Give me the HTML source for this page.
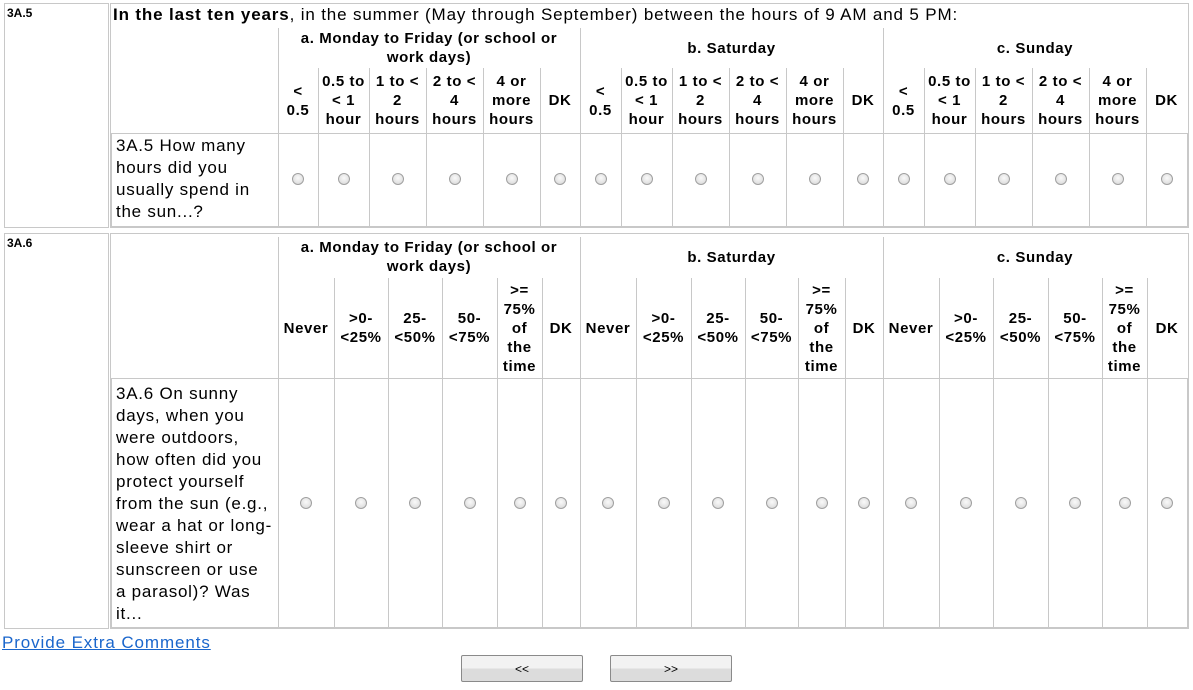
<!DOCTYPE html>
<html><head><meta charset="utf-8"><style>
body{margin:0;width:1193px;height:690px;background:#fff;position:relative;overflow:hidden;font-family:"Liberation Sans",Arial,sans-serif;color:#000}
.b{position:absolute;border:1px solid #c8c8c8;box-sizing:border-box}
.v{position:absolute;width:1px;background:#c8c8c8}
.c{position:absolute;display:flex;align-items:center;justify-content:center;text-align:center;font-weight:bold;font-size:15px;letter-spacing:0.6px;line-height:19px;white-space:nowrap}
.q{position:absolute;font-size:17px;letter-spacing:0.75px;line-height:22px;white-space:nowrap}
.id{position:absolute;font-weight:bold;font-size:12px}
.r{position:absolute;width:12px;height:12px;border-radius:50%;border:1px solid #a0a0a0;background:radial-gradient(circle at 50% 40%,#fafafa,#d4d4d4);box-sizing:border-box}
.btn{position:absolute;width:122px;height:27px;border:1px solid #8a8a8a;border-radius:2px;background:linear-gradient(#f2f2f2 50%,#dcdcdc 50%);font-size:12px;display:flex;align-items:center;justify-content:center;box-sizing:border-box}
</style></head><body>
<div class="b" style="left:4px;top:3px;width:105px;height:225px"></div>
<div class="b" style="left:110px;top:3px;width:1079px;height:225px"></div>
<div class="b" style="left:4px;top:233px;width:105px;height:396px"></div>
<div class="b" style="left:110px;top:233px;width:1079px;height:396px"></div>
<div class="b" style="left:111px;top:133px;width:1077px;height:94px"></div>
<div class="b" style="left:111px;top:378px;width:1077px;height:250px"></div>
<div id="g"></div>

<div class="id" style="left:7px;top:6px">3A.5</div>
<div class="id" style="left:7px;top:236px">3A.6</div>
<div style="position:absolute;left:113px;top:5px;font-size:17px;letter-spacing:0.85px;line-height:20px;white-space:nowrap"><b>In the last ten years</b>, in the summer (May through September) between the hours of 9 AM and 5 PM:</div>

<div class="c" style="left:278px;top:28px;width:302px;height:40px">a. Monday to Friday (or school or<br>work days)</div>
<div class="c" style="left:580px;top:28px;width:303px;height:40px">b. Saturday</div>
<div class="c" style="left:883px;top:28px;width:304px;height:40px">c. Sunday</div>

<div class="c" style="left:278px;top:68px;width:40px;height:65px">&lt;<br>0.5</div>
<div class="c" style="left:318px;top:68px;width:51px;height:65px">0.5 to<br>&lt; 1<br>hour</div>
<div class="c" style="left:369px;top:68px;width:57px;height:65px">1 to &lt;<br>2<br>hours</div>
<div class="c" style="left:426px;top:68px;width:57px;height:65px">2 to &lt;<br>4<br>hours</div>
<div class="c" style="left:483px;top:68px;width:57px;height:65px">4 or<br>more<br>hours</div>
<div class="c" style="left:540px;top:68px;width:40px;height:65px">DK</div>
<div class="c" style="left:580px;top:68px;width:41px;height:65px">&lt;<br>0.5</div>
<div class="c" style="left:621px;top:68px;width:51px;height:65px">0.5 to<br>&lt; 1<br>hour</div>
<div class="c" style="left:672px;top:68px;width:57px;height:65px">1 to &lt;<br>2<br>hours</div>
<div class="c" style="left:729px;top:68px;width:57px;height:65px">2 to &lt;<br>4<br>hours</div>
<div class="c" style="left:786px;top:68px;width:57px;height:65px">4 or<br>more<br>hours</div>
<div class="c" style="left:843px;top:68px;width:40px;height:65px">DK</div>
<div class="c" style="left:883px;top:68px;width:41px;height:65px">&lt;<br>0.5</div>
<div class="c" style="left:924px;top:68px;width:51px;height:65px">0.5 to<br>&lt; 1<br>hour</div>
<div class="c" style="left:975px;top:68px;width:57px;height:65px">1 to &lt;<br>2<br>hours</div>
<div class="c" style="left:1032px;top:68px;width:57px;height:65px">2 to &lt;<br>4<br>hours</div>
<div class="c" style="left:1089px;top:68px;width:57px;height:65px">4 or<br>more<br>hours</div>
<div class="c" style="left:1146px;top:68px;width:41px;height:65px">DK</div>

<div class="q" style="left:116px;top:135px">3A.5 How many<br>hours did you<br>usually spend in<br>the sun...?</div>

<div class="c" style="left:278px;top:237px;width:302px;height:40px">a. Monday to Friday (or school or<br>work days)</div>
<div class="c" style="left:580px;top:237px;width:303px;height:40px">b. Saturday</div>
<div class="c" style="left:883px;top:237px;width:304px;height:40px">c. Sunday</div>

<div class="c" style="left:278px;top:278px;width:56px;height:100px">Never</div>
<div class="c" style="left:334px;top:278px;width:54px;height:100px">&gt;0-<br>&lt;25%</div>
<div class="c" style="left:388px;top:278px;width:54px;height:100px">25-<br>&lt;50%</div>
<div class="c" style="left:442px;top:278px;width:55px;height:100px">50-<br>&lt;75%</div>
<div class="c" style="left:497px;top:278px;width:45px;height:100px">&gt;=<br>75%<br>of<br>the<br>time</div>
<div class="c" style="left:542px;top:278px;width:38px;height:100px">DK</div>
<div class="c" style="left:580px;top:278px;width:56px;height:100px">Never</div>
<div class="c" style="left:636px;top:278px;width:55px;height:100px">&gt;0-<br>&lt;25%</div>
<div class="c" style="left:691px;top:278px;width:54px;height:100px">25-<br>&lt;50%</div>
<div class="c" style="left:745px;top:278px;width:53px;height:100px">50-<br>&lt;75%</div>
<div class="c" style="left:798px;top:278px;width:47px;height:100px">&gt;=<br>75%<br>of<br>the<br>time</div>
<div class="c" style="left:845px;top:278px;width:38px;height:100px">DK</div>
<div class="c" style="left:883px;top:278px;width:56px;height:100px">Never</div>
<div class="c" style="left:939px;top:278px;width:54px;height:100px">&gt;0-<br>&lt;25%</div>
<div class="c" style="left:993px;top:278px;width:55px;height:100px">25-<br>&lt;50%</div>
<div class="c" style="left:1048px;top:278px;width:54px;height:100px">50-<br>&lt;75%</div>
<div class="c" style="left:1102px;top:278px;width:45px;height:100px">&gt;=<br>75%<br>of<br>the<br>time</div>
<div class="c" style="left:1147px;top:278px;width:40px;height:100px">DK</div>

<div class="q" style="left:116px;top:383px">3A.6 On sunny<br>days, when you<br>were outdoors,<br>how often did you<br>protect yourself<br>from the sun (e.g.,<br>wear a hat or long-<br>sleeve shirt or<br>sunscreen or use<br>a parasol)? Was<br>it...</div>

<div style="position:absolute;left:2px;top:633px;font-size:17px;letter-spacing:0.9px;color:#1a66cc;text-decoration:underline;white-space:nowrap">Provide Extra Comments</div>
<div class="btn" style="left:461px;top:655px">&lt;&lt;</div>
<div class="btn" style="left:610px;top:655px">&gt;&gt;</div>

<script>
var g=document.getElementById('g'),s='';
function v(x,y1,y2){s+='<div class="v" style="left:'+x+'px;top:'+y1+'px;height:'+(y2-y1)+'px"></div>';}
function rd(x,y){s+='<div class="r" style="left:'+(x-6)+'px;top:'+(y-6)+'px"></div>';}
var b1=[278,318,369,426,483,540,580,621,672,729,786,843,883,924,975,1032,1089,1146,1187];
var b2=[278,334,388,442,497,542,580,636,691,745,798,845,883,939,993,1048,1102,1147,1187];
[278,580,883].forEach(function(x){v(x,28,133);v(x,237,378);});
b1.forEach(function(x,i){if(i<18){v(x,68,227);}});
b2.forEach(function(x,i){if(i<18){v(x,278,627);}});
for(var i=0;i<18;i++){rd((b1[i]+b1[i+1])/2,179);rd((b2[i]+b2[i+1])/2,503);}
g.innerHTML=s;
</script>
</body></html>
